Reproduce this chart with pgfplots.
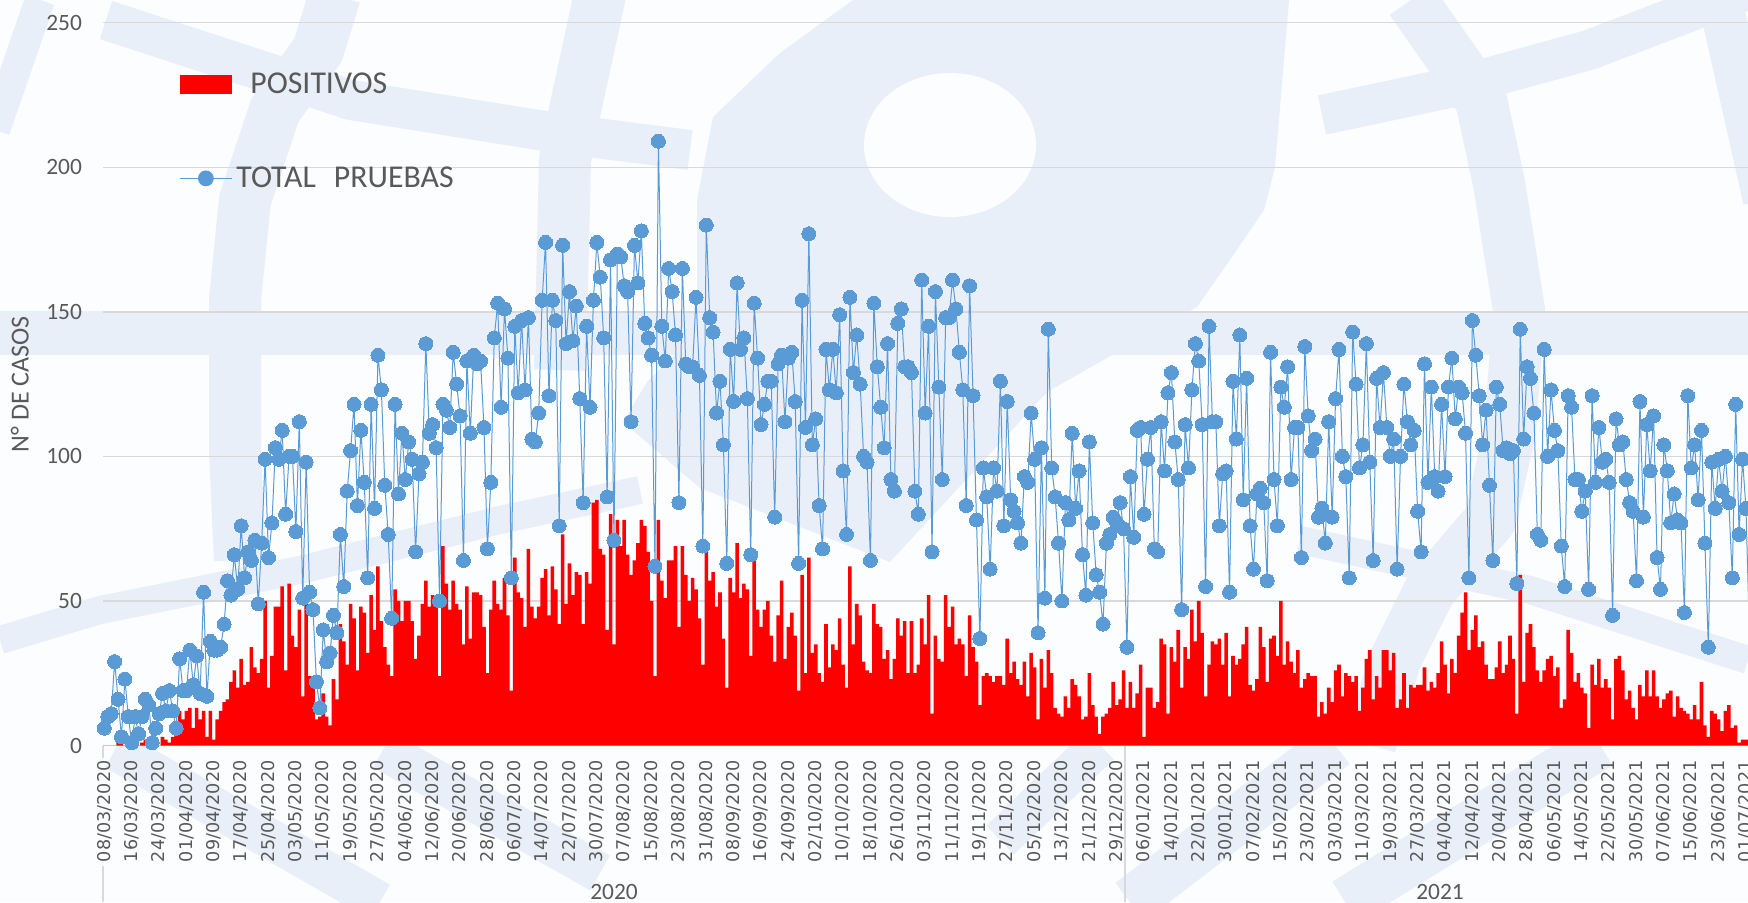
\documentclass[border=0pt]{standalone}
\usepackage{fontspec}
\setmainfont{Carlito}
\newfontfamily\dejavu{DejaVu Sans}
\usepackage{pgfplots}
\usepackage{pgfplotstable}
\pgfplotsset{compat=1.18}
\definecolor{wm}{RGB}{233,239,248}
\definecolor{bgc}{RGB}{251,253,255}
\definecolor{txt}{RGB}{89,89,89}
\definecolor{gridc}{RGB}{217,217,217}
\definecolor{serie}{RGB}{91,155,213}

% one value per day, starting 08/03/2020
\pgfplotstableread[row sep=crcr]{
v\\
0\\0\\0\\0\\1\\1\\0\\0\\0\\0\\
0\\1\\2\\0\\0\\0\\0\\3\\2\\1\\
3\\4\\12\\9\\12\\13\\6\\13\\9\\12\\
3\\12\\2\\9\\12\\15\\16\\22\\26\\20\\
30\\21\\22\\34\\27\\25\\30\\50\\20\\31\\
48\\48\\55\\26\\56\\38\\34\\47\\17\\49\\
24\\24\\9\\10\\18\\10\\7\\23\\16\\42\\
36\\28\\49\\44\\26\\48\\46\\32\\52\\40\\
62\\43\\34\\28\\24\\54\\50\\43\\50\\50\\
43\\30\\38\\49\\57\\48\\52\\48\\24\\69\\
56\\47\\57\\49\\47\\35\\55\\37\\53\\53\\
52\\41\\25\\47\\57\\49\\47\\58\\45\\19\\
65\\53\\51\\41\\68\\48\\44\\48\\58\\61\\
45\\62\\54\\42\\73\\49\\63\\52\\60\\59\\
42\\60\\56\\84\\85\\68\\66\\40\\80\\35\\
78\\69\\78\\66\\59\\64\\70\\78\\76\\67\\
50\\24\\78\\57\\51\\64\\64\\69\\41\\69\\
59\\50\\58\\54\\44\\28\\67\\57\\60\\48\\
53\\37\\20\\58\\53\\70\\51\\56\\54\\31\\
64\\47\\41\\47\\50\\38\\29\\45\\57\\30\\
41\\46\\38\\19\\59\\25\\65\\32\\35\\25\\
22\\42\\27\\35\\33\\44\\28\\20\\62\\35\\
49\\45\\29\\26\\25\\49\\42\\41\\30\\33\\
23\\30\\44\\38\\43\\25\\43\\25\\28\\44\\
35\\52\\11\\38\\30\\29\\52\\41\\48\\35\\
37\\35\\24\\45\\34\\29\\14\\24\\25\\24\\
22\\24\\24\\21\\37\\25\\29\\23\\21\\29\\
17\\32\\27\\9\\30\\20\\33\\25\\13\\11\\
10\\17\\13\\23\\21\\17\\9\\10\\25\\14\\
10\\4\\10\\11\\13\\22\\14\\16\\26\\13\\
22\\13\\18\\28\\3\\20\\20\\13\\15\\37\\
35\\11\\34\\29\\40\\20\\34\\30\\47\\36\\
50\\39\\17\\28\\36\\35\\37\\28\\39\\17\\
31\\28\\30\\35\\41\\21\\19\\23\\41\\34\\
22\\37\\38\\31\\50\\28\\36\\29\\25\\33\\
20\\23\\25\\24\\24\\10\\15\\11\\20\\15\\
26\\28\\17\\25\\24\\22\\24\\12\\20\\30\\
33\\16\\24\\20\\33\\33\\26\\32\\13\\16\\
25\\13\\21\\20\\21\\21\\27\\19\\22\\20\\
25\\36\\28\\18\\30\\25\\38\\46\\53\\33\\
40\\45\\34\\36\\28\\23\\23\\27\\36\\25\\
28\\38\\30\\11\\59\\22\\39\\42\\34\\26\\
22\\26\\30\\31\\24\\27\\13\\16\\40\\32\\
22\\25\\20\\18\\6\\28\\21\\30\\20\\23\\
20\\9\\30\\31\\26\\16\\19\\13\\9\\21\\
17\\26\\17\\26\\17\\13\\16\\18\\19\\10\\
17\\13\\12\\11\\9\\14\\9\\22\\7\\3\\
12\\11\\9\\5\\12\\14\\6\\7\\1\\2\\
2\\0\\0\\
}\positivos

\pgfplotstableread[row sep=crcr]{
v\\
6\\10\\11\\29\\16\\3\\23\\10\\1\\10\\
4\\10\\16\\14\\1\\6\\11\\18\\12\\19\\
12\\6\\30\\19\\19\\33\\21\\31\\18\\53\\
17\\36\\33\\33\\34\\42\\57\\52\\66\\54\\
76\\58\\67\\64\\71\\49\\70\\99\\65\\77\\
103\\99\\109\\80\\100\\100\\74\\112\\51\\98\\
53\\47\\22\\13\\40\\29\\32\\45\\39\\73\\
55\\88\\102\\118\\83\\109\\91\\58\\118\\82\\
135\\123\\90\\73\\44\\118\\87\\108\\92\\105\\
99\\67\\94\\98\\139\\108\\111\\103\\50\\118\\
116\\110\\136\\125\\114\\64\\133\\108\\135\\132\\
133\\110\\68\\91\\141\\153\\117\\151\\134\\58\\
145\\122\\147\\123\\148\\106\\105\\115\\154\\174\\
121\\154\\147\\76\\173\\139\\157\\140\\152\\120\\
84\\145\\117\\154\\174\\162\\141\\86\\168\\71\\
170\\169\\159\\157\\112\\173\\160\\178\\146\\141\\
135\\62\\209\\145\\133\\165\\157\\142\\84\\165\\
132\\131\\131\\155\\128\\69\\180\\148\\143\\115\\
126\\104\\63\\137\\119\\160\\137\\141\\120\\66\\
153\\134\\111\\118\\126\\126\\79\\132\\135\\112\\
134\\136\\119\\63\\154\\110\\177\\104\\113\\83\\
68\\137\\123\\137\\122\\149\\95\\73\\155\\129\\
142\\125\\100\\98\\64\\153\\131\\117\\103\\139\\
92\\88\\146\\151\\131\\131\\129\\88\\80\\161\\
115\\145\\67\\157\\124\\92\\148\\148\\161\\151\\
136\\123\\83\\159\\121\\78\\37\\96\\86\\61\\
96\\88\\126\\76\\119\\85\\81\\77\\70\\93\\
91\\115\\99\\39\\103\\51\\144\\96\\86\\70\\
50\\84\\78\\108\\82\\95\\66\\52\\105\\77\\
59\\53\\42\\70\\73\\79\\77\\84\\75\\34\\
93\\72\\109\\110\\80\\99\\110\\68\\67\\112\\
95\\122\\129\\105\\92\\47\\111\\96\\123\\139\\
133\\111\\55\\145\\112\\112\\76\\94\\95\\53\\
126\\106\\142\\85\\127\\76\\61\\87\\89\\84\\
57\\136\\92\\76\\124\\117\\131\\92\\110\\110\\
65\\138\\114\\102\\106\\79\\82\\70\\112\\79\\
120\\137\\100\\93\\58\\143\\125\\96\\104\\139\\
98\\64\\127\\110\\129\\110\\100\\106\\61\\100\\
125\\112\\104\\109\\81\\67\\132\\91\\124\\93\\
88\\118\\93\\124\\134\\113\\124\\122\\108\\58\\
147\\135\\121\\104\\116\\90\\64\\124\\118\\102\\
103\\101\\102\\56\\144\\106\\131\\127\\115\\73\\
71\\137\\100\\123\\109\\102\\69\\55\\121\\117\\
92\\92\\81\\88\\54\\121\\91\\110\\98\\99\\
91\\45\\113\\104\\105\\92\\84\\81\\57\\119\\
79\\111\\95\\114\\65\\54\\104\\95\\77\\87\\
78\\77\\46\\121\\96\\104\\85\\109\\70\\34\\
98\\82\\99\\88\\100\\84\\58\\118\\73\\99\\
82\\39\\1\\
}\totalpruebas

\begin{document}
\begin{tikzpicture}
\useasboundingbox (0,0) rectangle (874pt,451pt);
\fill[bgc] (0,0) rectangle (874pt,451pt);

% faint logo behind the chart, in reference pixels
\begin{scope}[x=0.5pt,y=-0.5pt,yshift=451pt,line cap=butt,line join=round]
\begin{scope}
\clip (0,0) rectangle (1748,902);
\fill[wm] (853,0) -- (780,53) -- (713,117) -- (697,200) -- (697,333) -- (647,382) -- (623,422)
  -- (700,488) -- (890,562) -- (1047,392) -- (1197,307) -- (1225,267) -- (1264,210)
  -- (1275,167) -- (1289,0) -- cycle;
\fill[bgc] (950,145) ellipse (86 and 72);
\draw[wm,line width=22pt] (0,333) -- (1748,333);
\draw[wm,line width=26pt] (335,-5) -- (318,50) -- (275,110) -- (245,200) -- (235,300) -- (235,450) -- (240,560);
\draw[wm,line width=20pt] (106,20) -- (351,100) -- (557,133) -- (690,150);
\draw[wm,line width=15pt] (40,0) -- (-5,130);
\draw[wm,line width=26pt] (600,-5) -- (575,110) -- (565,160) -- (560,370);
\draw[wm,line width=26pt] (1411,0) -- (1481,100) -- (1499,183) -- (1519,310) -- (1510,430) -- (1490,520) -- (1430,590) -- (1395,660) -- (1370,745);
\draw[wm,line width=20pt] (1322,115) -- (1454,87) -- (1589,50) -- (1694,10) -- (1760,-15);
\draw[wm,line width=22pt] (1720,0) -- (1765,200);
\draw[wm,line width=14pt] (0,640) -- (100,610) -- (300,570) -- (500,520) -- (640,490);
\draw[wm,line width=14pt] (1300,540) -- (1530,590) -- (1748,660);
\draw[wm,line width=20pt] (115,750) -- (380,902);
\draw[wm,line width=20pt] (383,750) -- (600,873);
\draw[wm,line width=20pt] (1100,745) -- (1000,840);
\draw[wm,line width=24pt] (1335,745) -- (1130,902);
\draw[wm,line width=24pt] (1600,745) -- (1345,902);
\end{scope}
\end{scope}

\begin{axis}[
    at={(51.5pt,78.25pt)},
    anchor=south west,
    scale only axis,
    width=822.5pt,
    height=361.4pt,
    xmin=-0.4, xmax=480.6,
    ymin=0, ymax=250,
    ytick={0,50,100,150,200,250},
    xtick={0,8,...,480},
    xticklabels={08/03/2020,16/03/2020,24/03/2020,01/04/2020,09/04/2020,17/04/2020,25/04/2020,03/05/2020,11/05/2020,19/05/2020,27/05/2020,04/06/2020,12/06/2020,20/06/2020,28/06/2020,06/07/2020,14/07/2020,22/07/2020,30/07/2020,07/08/2020,15/08/2020,23/08/2020,31/08/2020,08/09/2020,16/09/2020,24/09/2020,02/10/2020,10/10/2020,18/10/2020,26/10/2020,03/11/2020,11/11/2020,19/11/2020,27/11/2020,05/12/2020,13/12/2020,21/12/2020,29/12/2020,06/01/2021,14/01/2021,22/01/2021,30/01/2021,07/02/2021,15/02/2021,23/02/2021,03/03/2021,11/03/2021,19/03/2021,27/03/2021,04/04/2021,12/04/2021,20/04/2021,28/04/2021,06/05/2021,14/05/2021,22/05/2021,30/05/2021,07/06/2021,15/06/2021,23/06/2021,01/07/2021},
    /pgf/number format/assume math mode=true,
    xticklabel style={rotate=90,anchor=east,font=\dejavu\fontsize{8.8}{11}\selectfont,text=txt,xshift=-4pt},
    yticklabel style={font=\fontsize{11.7}{14}\selectfont,text=txt,xshift=-7pt},
    ylabel={N° DE CASOS},
    ylabel style={at={(axis description cs:-0.0505,0.5)},anchor=center,font=\fontsize{13}{15}\selectfont,text=txt},
    ymajorgrids,
    grid style={gridc,line width=0.75pt},
    separate axis lines,
    x axis line style={gridc,line width=0.75pt},
    y axis line style={draw=none},
    axis x line*=bottom,
    axis y line*=left,
    tick style={draw=none},
    legend style={at={(38pt,337.5pt)},anchor=north west,draw=none,fill=none,
      font=\fontsize{15.9}{18}\selectfont,text=txt,row sep=33pt,inner sep=0pt,
      nodes={inner sep=1pt}},
    legend cell align=left,
]
\addplot[ybar,bar shift=0pt,bar width=1.04,fill=red,draw=none,
    legend image code/.code={\fill[red] (0pt,-4.75pt) rectangle (26pt,4.75pt);}]
    table[x expr=\coordindex,y=v] {\positivos};
\addlegendentry{\hspace{8pt}POSITIVOS}
\addplot[serie,line width=0.5pt,mark=*,mark size=3.5pt,mark options={fill=serie,draw=serie,line width=0pt},
    legend image code/.code={\draw[serie,line width=0.5pt] (0pt,0pt) -- (26pt,0pt);
      \fill[serie] (13pt,0pt) circle (3.7pt);}]
    table[x expr=\coordindex,y=v] {\totalpruebas};
\addlegendentry{\hspace{1pt}TOTAL\hspace{9pt}PRUEBAS}
\end{axis}

% date hierarchy under the ticks
\begin{scope}[x=0.5pt,y=-0.5pt,yshift=451pt]
\draw[gridc,line width=0.75pt] (103,745.5) -- (103,758) (103,866) -- (103,902);
\draw[gridc,line width=0.75pt] (1125,745.5) -- (1125,902);
\node[text=txt,font=\fontsize{11.7}{14}\selectfont] at (614,892) {2020};
\node[text=txt,font=\fontsize{11.7}{14}\selectfont] at (1440,892) {2021};
\end{scope}
\end{tikzpicture}
\end{document}
